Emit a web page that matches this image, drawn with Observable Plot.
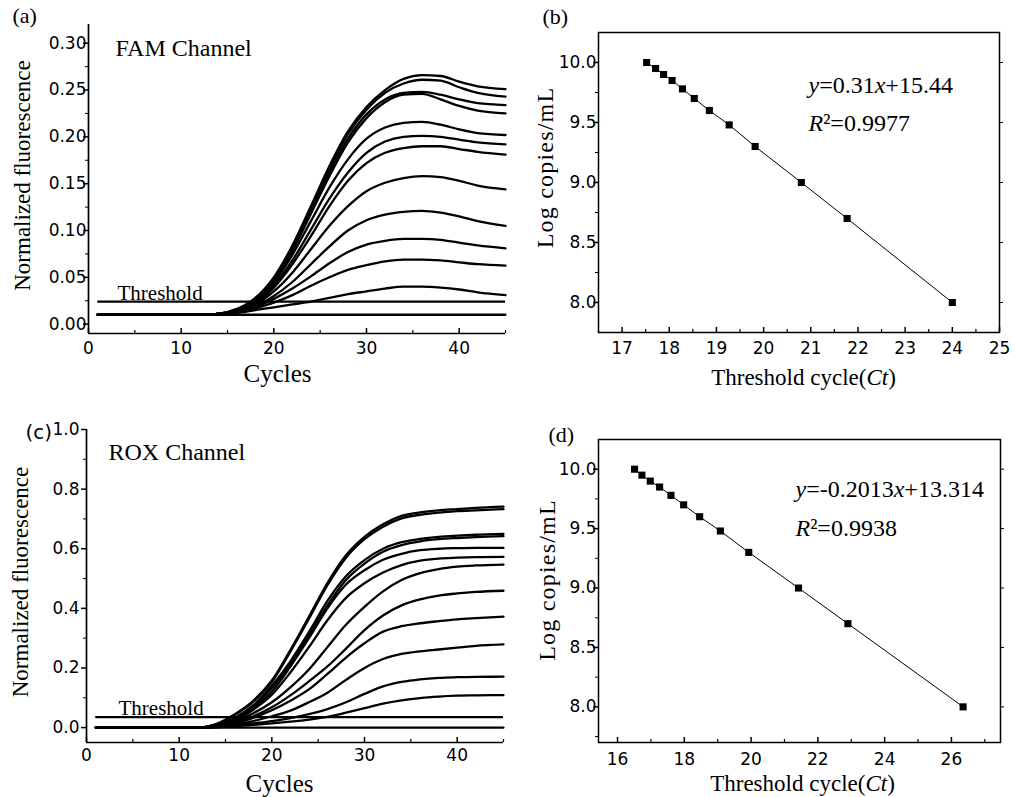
<!DOCTYPE html>
<html><head><meta charset="utf-8">
<script src="https://cdn.jsdelivr.net/npm/d3@7"></script>
<script src="https://cdn.jsdelivr.net/npm/@observablehq/plot@0.6"></script>
<style>
body{margin:0;background:#fff;}
#wrap{position:relative;width:1015px;height:797px;overflow:hidden;background:#fff;}
.panel{position:absolute;}
</style></head><body><div id="wrap"></div>
<script>
// ---------- data ----------
const cycles = [1, 12, 14, 16, 18, 20, 22, 24, 26, 28, 30, 32, 34, 36, 38, 40, 42, 45];

const famCurves = [
  [.010,.010,.011,.016,.028,.050,.084,.126,.169,.206,.232,.250,.262,.266,.265,.259,.254,.251],
  [.010,.010,.011,.016,.027,.049,.082,.124,.166,.203,.229,.247,.257,.261,.260,.253,.247,.243],
  [.010,.010,.011,.015,.026,.047,.080,.121,.162,.198,.224,.240,.247,.248,.245,.240,.236,.234],
  [.010,.010,.011,.015,.025,.046,.078,.118,.158,.194,.220,.237,.245,.246,.240,.233,.228,.225],
  [.010,.010,.011,.015,.024,.044,.074,.110,.146,.176,.198,.210,.215,.216,.213,.208,.204,.202],
  [.010,.010,.011,.014,.023,.041,.068,.101,.134,.162,.183,.195,.200,.201,.200,.197,.194,.192],
  [.010,.010,.011,.014,.022,.039,.064,.094,.126,.153,.172,.183,.188,.190,.190,.187,.184,.181],
  [.010,.010,.011,.014,.021,.035,.055,.080,.105,.126,.142,.151,.156,.158,.157,.153,.148,.144],
  [.010,.010,.011,.013,.019,.030,.045,.064,.083,.100,.111,.117,.120,.121,.119,.115,.110,.105],
  [.010,.010,.011,.013,.018,.027,.038,.051,.065,.077,.085,.089,.091,.091,.090,.087,.084,.081],
  [.010,.010,.011,.013,.017,.023,.031,.041,.050,.058,.063,.067,.069,.069,.068,.066,.064,.0625],
  [.010,.010,.011,.012,.015,.018,.021,.024,.028,.032,.035,.038,.040,.040,.039,.037,.034,.031]
];
const famBaseline = 0.010;
const famThreshold = 0.024;

const roxCurves = [
  [0,0,.012,.045,.090,.158,.260,.372,.485,.578,.640,.682,.710,.722,.729,.733,.737,.741],
  [0,0,.011,.042,.087,.153,.255,.365,.478,.570,.632,.674,.702,.714,.721,.726,.729,.733],
  [0,0,.009,.032,.075,.140,.222,.320,.425,.508,.562,.600,.622,.633,.640,.644,.647,.650],
  [0,0,.009,.030,.070,.132,.212,.310,.410,.495,.550,.590,.612,.625,.632,.636,.639,.642],
  [0,0,.008,.027,.065,.120,.205,.300,.400,.480,.528,.563,.583,.595,.600,.602,.603,.603],
  [0,0,.007,.024,.060,.110,.185,.270,.360,.435,.484,.520,.545,.560,.567,.570,.572,.573],
  [0,0,.006,.020,.048,.085,.135,.195,.270,.345,.405,.457,.495,.518,.532,.540,.544,.547],
  [0,0,.005,.016,.038,.068,.108,.155,.205,.265,.327,.376,.410,.430,.443,.450,.455,.459],
  [0,0,.004,.013,.033,.058,.090,.128,.180,.235,.283,.322,.340,.350,.357,.363,.367,.372],
  [0,0,.003,.009,.022,.038,.057,.085,.117,.160,.200,.230,.247,.256,.262,.268,.274,.279],
  [0,0,.002,.006,.014,.022,.032,.045,.062,.085,.113,.138,.153,.162,.167,.169,.170,.171],
  [0,0,.001,.004,.009,.014,.020,.027,.036,.050,.065,.080,.091,.099,.104,.107,.108,.109]
];
const roxBaseline = 0;
const roxThreshold = 0.035;

const famCt = [17.52, 17.71, 17.88, 18.06, 18.28, 18.53, 18.85, 19.27, 19.82, 20.80, 21.77, 24.00];
const famLog = [10.00, 9.95, 9.90, 9.85, 9.78, 9.70, 9.60, 9.48, 9.30, 9.00, 8.70, 8.00];
const roxCt = [16.51, 16.73, 16.98, 17.26, 17.60, 17.98, 18.46, 19.08, 19.93, 21.42, 22.90, 26.35];
const roxLog = [10.00, 9.95, 9.90, 9.85, 9.78, 9.70, 9.60, 9.48, 9.30, 9.00, 8.70, 8.00];

const cycleTicks = [0, 10, 20, 30, 40];
const famYTicks = [0, 0.05, 0.10, 0.15, 0.20, 0.25, 0.30];
const roxYTicks = [0, 0.2, 0.4, 0.6, 0.8, 1.0];
const logTicks = [8.0, 8.5, 9.0, 9.5, 10.0];
const famCtTicks = [17, 18, 19, 20, 21, 22, 23, 24, 25];
const roxCtTicks = [16, 18, 20, 22, 24, 26];

// ---------- helpers ----------
const SERIF = "'Liberation Serif','Times New Roman',serif";
const SANS = "'DejaVu Sans',sans-serif";
const blank = () => "";

function curveRows(curves, baseline) {
  const rows = [];
  curves.forEach((vals, s) => vals.forEach((v, j) => rows.push({s, x: cycles[j], y: v})));
  cycles.forEach(c => rows.push({s: -1, x: c, y: baseline}));
  return rows;
}
function pointRows(ct, lg) { return ct.map((c, i) => ({ct: c, log: lg[i]})); }

const T = (txt, frameAnchor, dx, dy, o = {}) => Plot.text([txt], {
  text: d => d, frameAnchor, dx, dy, lineAnchor: "middle", textAnchor: "start",
  fontFamily: SERIF, fontSize: 24, fill: "black", ...o
});

function rich(svg, key, parts) {
  svg.querySelectorAll("text").forEach(t => {
    if (t.textContent === key) {
      t.textContent = "";
      for (const [s, it] of parts) {
        const ts = document.createElementNS("http://www.w3.org/2000/svg", "tspan");
        if (it) ts.setAttribute("font-style", "italic");
        ts.textContent = s;
        t.appendChild(ts);
      }
    }
  });
}
function spacing(svg, key, ls) {
  svg.querySelectorAll("text").forEach(t => {
    if (t.textContent === key) t.setAttribute("letter-spacing", ls);
  });
}

function place(svg, left, top) {
  const d = document.createElement("div");
  d.className = "panel";
  d.style.left = left + "px"; d.style.top = top + "px";
  d.appendChild(svg);
  document.getElementById("wrap").appendChild(d);
}

const tickFont = {fontSize: 17, fontFamily: SANS, fill: "black", stroke: "black", strokeWidth: 0.35};

// inward x ticks drawn as tick marks that only occupy the bottom few pixels of the frame
function inwardX(values, innerH, len, sw) {
  return Plot.tickX(values, {x: d => d, insetTop: innerH - len, strokeWidth: sw, stroke: "black"});
}

function curvePanel({curves, baseline, threshold, xDomain, yDomain, yTicks, yMinor, yFmt, yPad, xPad,
                     width, height, m, texts}) {
  const rows = curveRows(curves, baseline);
  const innerH = height - m[2] - m[3];
  return Plot.plot({
    width, height, marginLeft: m[0], marginRight: m[1], marginTop: m[2], marginBottom: m[3],
    x: {domain: xDomain}, y: {domain: yDomain},
    style: {background: "transparent", color: "black", fontFamily: SANS},
    marks: [
      Plot.ruleX([xDomain[0]], {strokeWidth: 1.7}),
      Plot.ruleY([yDomain[0]], {strokeWidth: 1.7}),
      Plot.axisY({ticks: yTicks, tickSize: 0, tickPadding: yPad, tickFormat: yFmt, label: null, ...tickFont}),
      Plot.axisY({ticks: yTicks, tickSize: 5, tickFormat: blank, label: null, strokeWidth: 1.5}),
      Plot.axisY({ticks: yMinor, tickSize: 3, tickFormat: blank, label: null}),
      Plot.axisX({ticks: cycleTicks, tickSize: 0, tickPadding: xPad, tickFormat: d3.format("d"), label: null, ...tickFont}),
      inwardX(cycleTicks, innerH, 5, 1.5),
      inwardX([5, 15, 25, 35, 45], innerH, 3, 1.2),
      Plot.ruleY([threshold], {x1: cycles[0], x2: cycles[cycles.length - 1], strokeWidth: 2.3}),
      Plot.line(rows, {x: "x", y: "y", z: "s", stroke: "black", strokeWidth: 2.3, curve: "monotone-x"}),
      ...texts
    ]
  });
}

function ctPanel({ct, lg, xDomain, yDomain, xTicks, xMinor, width, height, m, xPad, texts}) {
  const pts = pointRows(ct, lg);
  const innerH = height - m[2] - m[3];
  const yMinor = [7.75, 8.25, 8.75, 9.25, 9.75, 10.25].filter(v => v > yDomain[0] && v < yDomain[1]);
  return Plot.plot({
    width, height, marginLeft: m[0], marginRight: m[1], marginTop: m[2], marginBottom: m[3],
    x: {domain: xDomain}, y: {domain: yDomain},
    style: {background: "transparent", color: "black", fontFamily: SANS},
    marks: [
      Plot.frame({strokeWidth: 1.5}),
      Plot.axisY({ticks: logTicks, tickSize: 0, tickPadding: 2, tickFormat: d3.format(".1f"), label: null, ...tickFont}),
      Plot.axisY({ticks: logTicks, tickSize: 5, tickFormat: blank, label: null, strokeWidth: 1.5}),
      Plot.axisY({ticks: yMinor, tickSize: 3, tickFormat: blank, label: null}),
      Plot.axisY({anchor: "right", ticks: logTicks, tickSize: 3, tickFormat: blank, label: null}),
      Plot.axisX({ticks: xTicks, tickSize: 0, tickPadding: xPad, tickFormat: d3.format("d"), label: null, ...tickFont}),
      inwardX(xTicks, innerH, 5, 1.5),
      inwardX(xMinor, innerH, 3, 1.2),
      Plot.line(pts, {x: "ct", y: "log", stroke: "black", strokeWidth: 1}),
      Plot.dot(pts, {x: "ct", y: "log", symbol: "square", r: 4, fill: "black", stroke: "none"}),
      ...texts
    ]
  });
}

// ---------- panel (a) ----------
const svgA = curvePanel({
  curves: famCurves, baseline: famBaseline, threshold: famThreshold,
  xDomain: [0, 45], yDomain: [-0.01, 0.32], yTicks: famYTicks,
  yMinor: [0.025, 0.075, 0.125, 0.175, 0.225, 0.275], yFmt: d3.format(".2f"), yPad: 2, xPad: 8,
  width: 520, height: 400, m: [88, 15, 24, 67],
  texts: [
    T("(a)", "top-left", -76, -9, {fontSize: 22}),
    T("FAM Channel", "top-left", 27, 24, {fontSize: 24}),
    T("Threshold", "top-left", 29, 269, {fontSize: 21}),
    T("Cycles", "bottom", -19.5, 40, {fontSize: 25, textAnchor: "middle"}),
    T("Normalized fluorescence", "left", -66, -3.5, {fontSize: 23, textAnchor: "middle", rotate: -90})
  ]
});
place(svgA, 0, 0);

// ---------- panel (b) ----------
const svgB = ctPanel({
  ct: famCt, lg: famLog, xDomain: [16.5, 25], yDomain: [7.75, 10.25],
  xTicks: famCtTicks, xMinor: [16.5, 17.5, 18.5, 19.5, 20.5, 21.5, 22.5, 23.5, 24.5],
  width: 495, height: 400, m: [78, 16, 32, 68], xPad: 9,
  texts: [
    T("(b)", "top-left", -56, -16, {fontSize: 22}),
    T("y=0.31x+15.44", "top-left", 210, 53, {fontSize: 24}),
    T("R²=0.9977", "top-left", 210, 91, {fontSize: 24}),
    T("Threshold cycle(Ct)", "bottom", 4.5, 45, {fontSize: 23, textAnchor: "middle"}),
    T("Log copies/mL", "left", -53, -15, {fontSize: 24, textAnchor: "middle", rotate: -90})
  ]
});
rich(svgB, "y=0.31x+15.44", [["y", 1], ["=0.31", 0], ["x", 1], ["+15.44", 0]]);
rich(svgB, "R²=0.9977", [["R", 1], ["²=0.9977", 0]]);
rich(svgB, "Threshold cycle(Ct)", [["Threshold cycle(", 0], ["Ct", 1], [")", 0]]);
spacing(svgB, "Log copies/mL", "1.2px");
place(svgB, 520, 0);

// ---------- panel (c) ----------
const svgC = curvePanel({
  curves: roxCurves, baseline: roxBaseline, threshold: roxThreshold,
  xDomain: [0, 45], yDomain: [-0.05, 1.0], yTicks: roxYTicks,
  yMinor: [0.1, 0.3, 0.5, 0.7, 0.9], yFmt: d3.format(".1f"), yPad: 7, xPad: 6,
  width: 520, height: 397, m: [86, 17, 29, 55],
  texts: [
    T("(c)", "top-left", -61, 3, {fontSize: 20, fontFamily: SANS}),
    T("ROX Channel", "top-left", 22, 23, {fontSize: 24}),
    T("Threshold", "top-left", 32, 279, {fontSize: 21}),
    T("Cycles", "bottom", -15.5, 41, {fontSize: 25, textAnchor: "middle"}),
    T("Normalized fluorescence", "left", -66, -4, {fontSize: 23, textAnchor: "middle", rotate: -90})
  ]
});
place(svgC, 0, 400);

// ---------- panel (d) ----------
const svgD = ctPanel({
  ct: roxCt, lg: roxLog, xDomain: [15.43, 27.47], yDomain: [7.70, 10.25],
  xTicks: roxCtTicks, xMinor: [17, 19, 21, 23, 25, 27],
  width: 495, height: 397, m: [78, 15, 39, 55], xPad: 10,
  texts: [
    T("(d)", "top-left", -50, -5, {fontSize: 22}),
    T("y=-0.2013x+13.314", "top-left", 197, 50, {fontSize: 24}),
    T("R²=0.9938", "top-left", 197, 89, {fontSize: 24}),
    T("Threshold cycle(Ct)", "bottom", 3, 41, {fontSize: 23, textAnchor: "middle"}),
    T("Log copies/mL", "left", -51, -11, {fontSize: 24, textAnchor: "middle", rotate: -90})
  ]
});
rich(svgD, "y=-0.2013x+13.314", [["y", 1], ["=-0.2013", 0], ["x", 1], ["+13.314", 0]]);
rich(svgD, "R²=0.9938", [["R", 1], ["²=0.9938", 0]]);
rich(svgD, "Threshold cycle(Ct)", [["Threshold cycle(", 0], ["Ct", 1], [")", 0]]);
spacing(svgD, "Log copies/mL", "1.2px");
place(svgD, 520, 400);
</script></body></html>
